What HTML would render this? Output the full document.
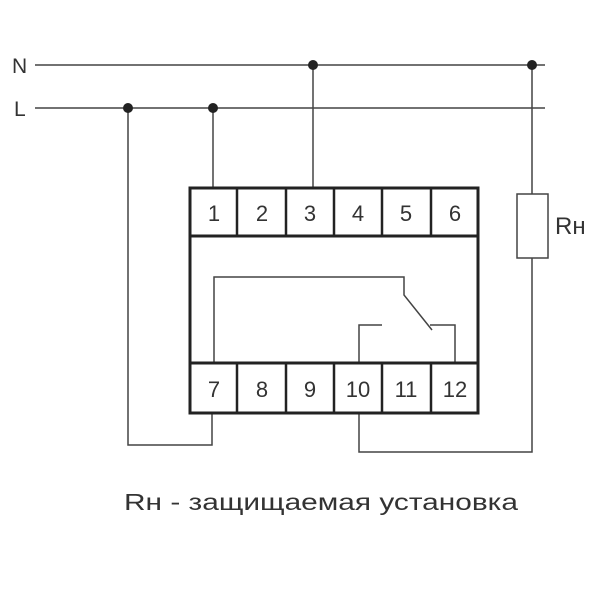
<!DOCTYPE html>
<html><head><style>body{margin:0;background:#fff}svg{display:block}</style></head><body>
<svg width="600" height="600" viewBox="0 0 600 600" xmlns="http://www.w3.org/2000/svg" font-family="Liberation Sans, DejaVu Sans, sans-serif">
<g stroke="#444" stroke-width="1.5" fill="none">
<line x1="35" y1="65" x2="545" y2="65"/>
<line x1="35" y1="108" x2="545" y2="108"/>
<polyline points="213,108 213,188"/>
<polyline points="313,65 313,188"/>
<polyline points="128,108 128,445 212,445 212,413"/>
<polyline points="532,65 532,194"/>
<polyline points="532,258 532,452 359,452 359,413"/>
<rect x="517" y="194" width="31" height="64" fill="#fff"/>
<polyline points="214,363 214,277 404,277 404,295 432,330"/>
<polyline points="430,325 455,325 455,363"/>
<polyline points="359,363 359,325 382,325"/>
</g>
<g fill="#222">
<circle cx="313" cy="65" r="5"/><circle cx="532" cy="65" r="5"/>
<circle cx="128" cy="108" r="5"/><circle cx="213" cy="108" r="5"/>
</g>
<g stroke="#222" stroke-width="3" fill="none">
<rect x="190" y="188" width="288" height="225"/>
<line x1="190" y1="236" x2="478" y2="236"/>
<line x1="190" y1="363" x2="478" y2="363"/>
<g stroke-width="2.5">
<line x1="237" y1="188" x2="237" y2="236"/><line x1="286" y1="188" x2="286" y2="236"/><line x1="334" y1="188" x2="334" y2="236"/><line x1="382" y1="188" x2="382" y2="236"/><line x1="431" y1="188" x2="431" y2="236"/>
<line x1="237" y1="363" x2="237" y2="413"/><line x1="286" y1="363" x2="286" y2="413"/><line x1="334" y1="363" x2="334" y2="413"/><line x1="382" y1="363" x2="382" y2="413"/><line x1="431" y1="363" x2="431" y2="413"/>
</g>
</g>
<g fill="#333" font-size="22" text-anchor="middle">
<text x="214" y="221">1</text><text x="262" y="221">2</text><text x="310" y="221">3</text><text x="358" y="221">4</text><text x="406" y="221">5</text><text x="455" y="221">6</text>
<text x="214" y="397">7</text><text x="262" y="397">8</text><text x="310" y="397">9</text><text x="358" y="397">10</text><text x="406" y="397">11</text><text x="455" y="397">12</text>
</g>
<g fill="#333" font-size="21">
<text x="12" y="73">N</text><text x="14" y="116">L</text>
<text x="555" y="234" font-size="24">Rн</text>
<text x="124" y="510" font-size="23" textLength="394" lengthAdjust="spacingAndGlyphs">Rн - защищаемая установка</text>
</g>
</svg>
</body></html>
